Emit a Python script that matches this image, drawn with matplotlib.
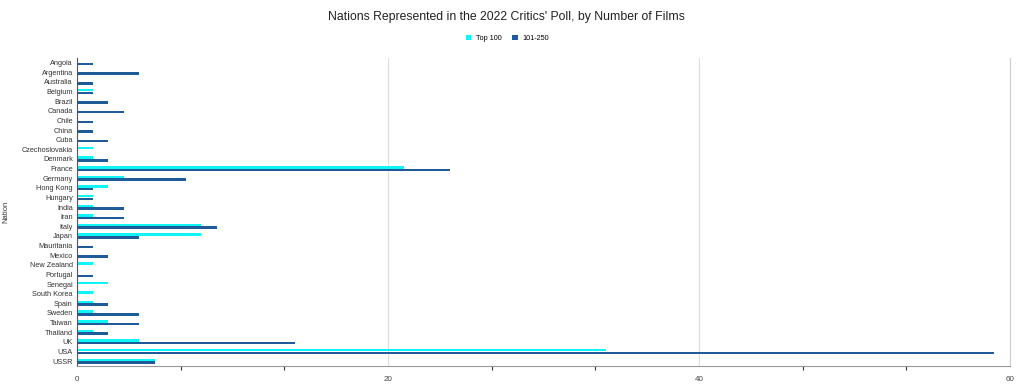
import numpy as np
import matplotlib.pyplot as plt
from matplotlib.ticker import MultipleLocator

plt.rcParams['font.family'] = ['Liberation Sans', 'DejaVu Sans']

nations = ['Angola', 'Argentina', 'Australia', 'Belgium', 'Brazil', 'Canada', 'Chile',
           'China', 'Cuba', 'Czechoslovakia', 'Denmark', 'France', 'Germany', 'Hong Kong',
           'Hungary', 'India', 'Iran', 'Italy', 'Japan', 'Mauritania', 'Mexico',
           'New Zealand', 'Portugal', 'Senegal', 'South Korea', 'Spain', 'Sweden',
           'Taiwan', 'Thailand', 'UK', 'USA', 'USSR']
top100 = [0, 0, 0, 1, 0, 0, 0, 0, 0, 1, 1, 21, 3, 2, 1, 1, 1, 8, 8, 0, 0, 1, 0, 2, 1, 1, 1, 2, 1, 4, 34, 5]
next150 = [1, 4, 1, 1, 2, 3, 1, 1, 2, 0, 2, 24, 7, 1, 1, 3, 3, 9, 4, 1, 2, 0, 1, 0, 0, 2, 4, 4, 2, 14, 59, 5]

c_top = '#0ff5f7'
c_next = '#1f5b99'

fig = plt.figure(figsize=(10.23, 3.86), dpi=100)
ax = fig.add_axes([0.0753, 0.052, 0.912, 0.798])

y = np.arange(len(nations))
h = 0.26
ax.barh(y - h / 2 - 0.01, top100, height=h, color=c_top, label='Top 100')
ax.barh(y + h / 2 + 0.01, next150, height=h, color=c_next, label='101-250')

ax.set_ylim(len(nations) - 0.5, -0.5)
ax.set_xlim(0, 60)
ax.set_yticks(y)
ax.set_yticklabels(nations, fontsize=5.3, color='#333333')
ax.tick_params(axis='y', length=0, pad=3)

ax.set_xticks([0, 20, 40, 60])
ax.xaxis.set_minor_locator(MultipleLocator(20 / 3))
ax.tick_params(axis='x', which='major', length=0, labelsize=5.8, labelcolor='#444444', pad=7)
ax.tick_params(axis='x', which='minor', length=3, width=0.8, color='#333333')
ax.grid(axis='x', which='major', color='#dddddd', linewidth=0.8)
ax.set_axisbelow(True)

ax.spines['top'].set_visible(False)
ax.spines['right'].set_color('#cccccc')
ax.spines['left'].set_color('#555555')
ax.spines['bottom'].set_color('#999999')

ax.set_ylabel('Nation', fontsize=5.5, color='#333333')
ax.yaxis.set_label_coords(-0.072, 0.5)

fig.text(0.495, 0.955, "Nations Represented in the 2022 Critics' Poll, by Number of Films",
         ha='center', va='center', fontsize=8.8, color='#222222')
fig.legend(loc='center', bbox_to_anchor=(0.496, 0.9), ncol=2, frameon=False, fontsize=5.2,
           handlelength=0.8, handleheight=0.8, handletextpad=0.6, columnspacing=1.5)

fig.savefig('out.png', dpi=100)
